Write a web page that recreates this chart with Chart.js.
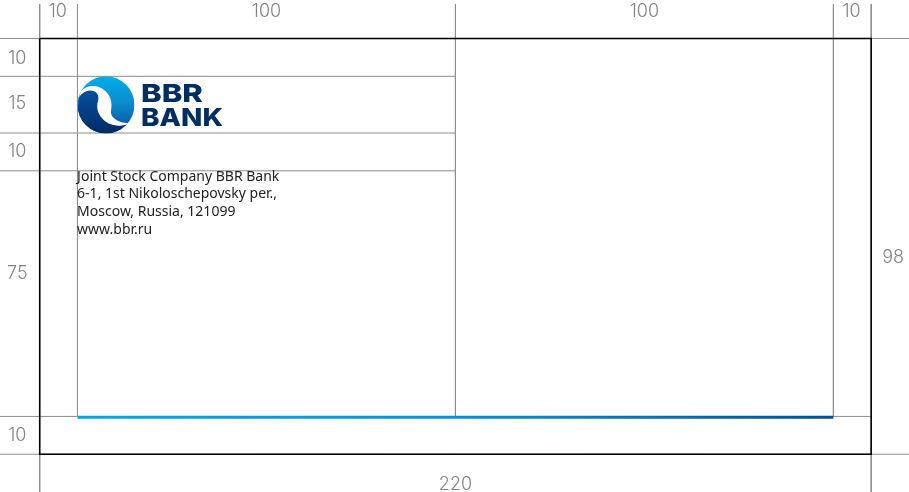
<!DOCTYPE html>
<html>
<head>
<meta charset="utf-8">
<title>BBR Bank letterhead</title>
<script src="https://cdn.jsdelivr.net/npm/chart.js@4"></script>
<style>
  html, body { margin: 0; padding: 0; background: #fff; }
  canvas { display: block; }
</style>
</head>
<body>
<canvas id="sheet" width="909" height="492"></canvas>
<script>
// sheet measures, in the same units as the dimension labels
var columnLabels = ['10', '100', '100', '10'];
var columnLabelX = [4.8, 60, 160, 214.8];
var rowLabels = ['10', '15', '10', '75', '10'];
var rowLabelY = [5.2, 17.2, 29.8, 62.2, 105.2];
var totalLabels = ['220', '98'];
var addressLines = [
  'Joint Stock Company BBR Bank',
  '6-1, 1st Nikoloschepovsky per.,',
  'Moscow, Russia, 121099',
  'www.bbr.ru'
];
var logoLines = ['BBR', 'BANK'];

// guide lines: [x1, y1, x2, y2]
var guides = [
  [-10.5, 0, 230, 0],
  [-10.5, 10, 110, 10],
  [-10.5, 25, 110, 25],
  [-10.5, 35, 110, 35],
  [-10.5, 100, 10, 100],
  [210, 100, 220, 100],
  [-10.5, 110, 230, 110],
  [0, -9.1, 0, 120],
  [10, -9.1, 10, 100],
  [110, -9.1, 110, 100],
  [210, -9.1, 210, 100],
  [220, -9.1, 220, 120]
];
var frameX = [0, 220, 220, 0, 0];
var frameY = [0, 0, 110, 110, 0];
var ruleX = [10, 210];
var ruleY = [100.2, 100.2];

function toPoints(xs, ys) {
  var points = [];
  for (var i = 0; i < xs.length; i++) {
    points.push({ x: xs[i], y: ys[i] });
  }
  return points;
}

function ruleGradient(context) {
  var chart = context.chart;
  if (!chart.chartArea) {
    return '#00a9e4';
  }
  var x = chart.scales.x;
  var gradient = chart.ctx.createLinearGradient(x.getPixelForValue(10), 0, x.getPixelForValue(210), 0);
  gradient.addColorStop(0, '#00a9e4');
  gradient.addColorStop(0.5, '#0095d6');
  gradient.addColorStop(1, '#004f9f');
  return gradient;
}

// first dataset is painted last, so the rule and the frame go on top of the guides
var datasets = [];
datasets.push({ data: toPoints(ruleX, ruleY), borderColor: ruleGradient, borderWidth: 3 });
datasets.push({ data: toPoints(frameX, frameY), borderColor: '#000', borderWidth: 1.5 });
for (var i = 0; i < guides.length; i++) {
  datasets.push({
    data: [{ x: guides[i][0], y: guides[i][1] }, { x: guides[i][2], y: guides[i][3] }],
    borderColor: '#8e8e8e',
    borderWidth: 1
  });
}

function fitText(ctx, text, x, y, width) {
  var stretch = width / ctx.measureText(text).width;
  ctx.save();
  ctx.translate(x, y);
  ctx.scale(stretch, 1);
  ctx.fillText(text, 0, 0);
  ctx.restore();
}

function drawLogo(chart) {
  var ctx = chart.ctx;
  var left = chart.scales.x.getPixelForValue(10);
  var top = chart.scales.y.getPixelForValue(10);
  ctx.save();
  ctx.translate(left, top);

  ctx.save();
  ctx.beginPath();
  ctx.arc(28.5, 28.5, 28.5, 0, Math.PI * 2);
  ctx.clip();

  var light = ctx.createLinearGradient(0, 0, 0, 50);
  light.addColorStop(0, '#00aee8');
  light.addColorStop(0.5, '#0a8ed0');
  light.addColorStop(1, '#0a5aa8');
  ctx.fillStyle = light;
  ctx.fillRect(0, 0, 57, 57);

  // dark lower body
  var dark = ctx.createLinearGradient(0, 12, 0, 57);
  dark.addColorStop(0, '#0a4f9c');
  dark.addColorStop(0.45, '#06418a');
  dark.addColorStop(1, '#002a62');
  ctx.fillStyle = dark;
  ctx.beginPath();
  ctx.moveTo(53, 47);
  ctx.bezierCurveTo(44, 51, 32, 50, 25.5, 43);
  ctx.bezierCurveTo(19.5, 37, 19, 30, 20.5, 25);
  ctx.bezierCurveTo(22, 20, 20, 15.5, 15, 14.5);
  ctx.bezierCurveTo(10, 13.5, 5, 16, 1.5, 21);
  ctx.lineTo(-2, 60);
  ctx.lineTo(60, 60);
  ctx.closePath();
  ctx.fill();

  // white swoosh between the two
  ctx.fillStyle = '#fff';
  ctx.beginPath();
  ctx.moveTo(3, 16);
  ctx.bezierCurveTo(6, 11, 13, 8, 21, 10.5);
  ctx.bezierCurveTo(28, 13, 34, 20, 34, 28);
  ctx.bezierCurveTo(34, 35, 32, 37, 36, 41.5);
  ctx.bezierCurveTo(41, 46, 47, 47, 53, 47);
  ctx.bezierCurveTo(44, 51, 32, 50, 25.5, 43);
  ctx.bezierCurveTo(19.5, 37, 19, 30, 20.5, 25);
  ctx.bezierCurveTo(22, 20, 20, 15.5, 15, 14.5);
  ctx.bezierCurveTo(10, 13.5, 5, 16, 1.5, 21);
  ctx.closePath();
  ctx.fill();
  ctx.restore();

  ctx.fillStyle = '#002d62';
  ctx.font = '800 25px Inter, "Open Sans", sans-serif';
  ctx.textAlign = 'left';
  ctx.textBaseline = 'alphabetic';
  fitText(ctx, logoLines[0], 63.5, 26, 62);
  fitText(ctx, logoLines[1], 63.5, 50, 82);
  ctx.restore();
}

var sheetText = {
  id: 'sheetText',
  afterDatasetsDraw: function (chart) {
    var ctx = chart.ctx;
    var x = chart.scales.x;
    var y = chart.scales.y;
    var i;

    drawLogo(chart);

    ctx.save();
    ctx.fillStyle = '#848484';
    ctx.font = '300 18px Inter, "Noto Sans", sans-serif';
    ctx.textAlign = 'center';
    ctx.textBaseline = 'middle';
    for (i = 0; i < columnLabels.length; i++) {
      ctx.fillText(columnLabels[i], x.getPixelForValue(columnLabelX[i]), y.getPixelForValue(-7));
    }
    for (i = 0; i < rowLabels.length; i++) {
      ctx.fillText(rowLabels[i], x.getPixelForValue(-5.9), y.getPixelForValue(rowLabelY[i]));
    }
    ctx.fillText(totalLabels[0], x.getPixelForValue(110), y.getPixelForValue(118));
    ctx.fillText(totalLabels[1], x.getPixelForValue(225.8), y.getPixelForValue(58));

    ctx.fillStyle = '#222';
    ctx.font = '14px "Noto Sans", sans-serif';
    ctx.textAlign = 'left';
    for (i = 0; i < addressLines.length; i++) {
      ctx.fillText(addressLines[i], x.getPixelForValue(9.9), y.getPixelForValue(36.6 + i * 4.67));
    }
    ctx.restore();
  }
};

var sheet = new Chart(document.getElementById('sheet').getContext('2d'), {
  type: 'line',
  data: { datasets: datasets },
  plugins: [sheetText],
  options: {
    responsive: false,
    animation: false,
    layout: { padding: 0 },
    elements: { point: { radius: 0 }, line: { tension: 0 } },
    plugins: { legend: { display: false }, tooltip: { enabled: false } },
    scales: {
      x: { type: 'linear', display: false, min: -10.5, max: 230 },
      y: { type: 'linear', display: false, reverse: true, min: -10.2, max: 120 }
    }
  }
});
</script>
</body>
</html>
